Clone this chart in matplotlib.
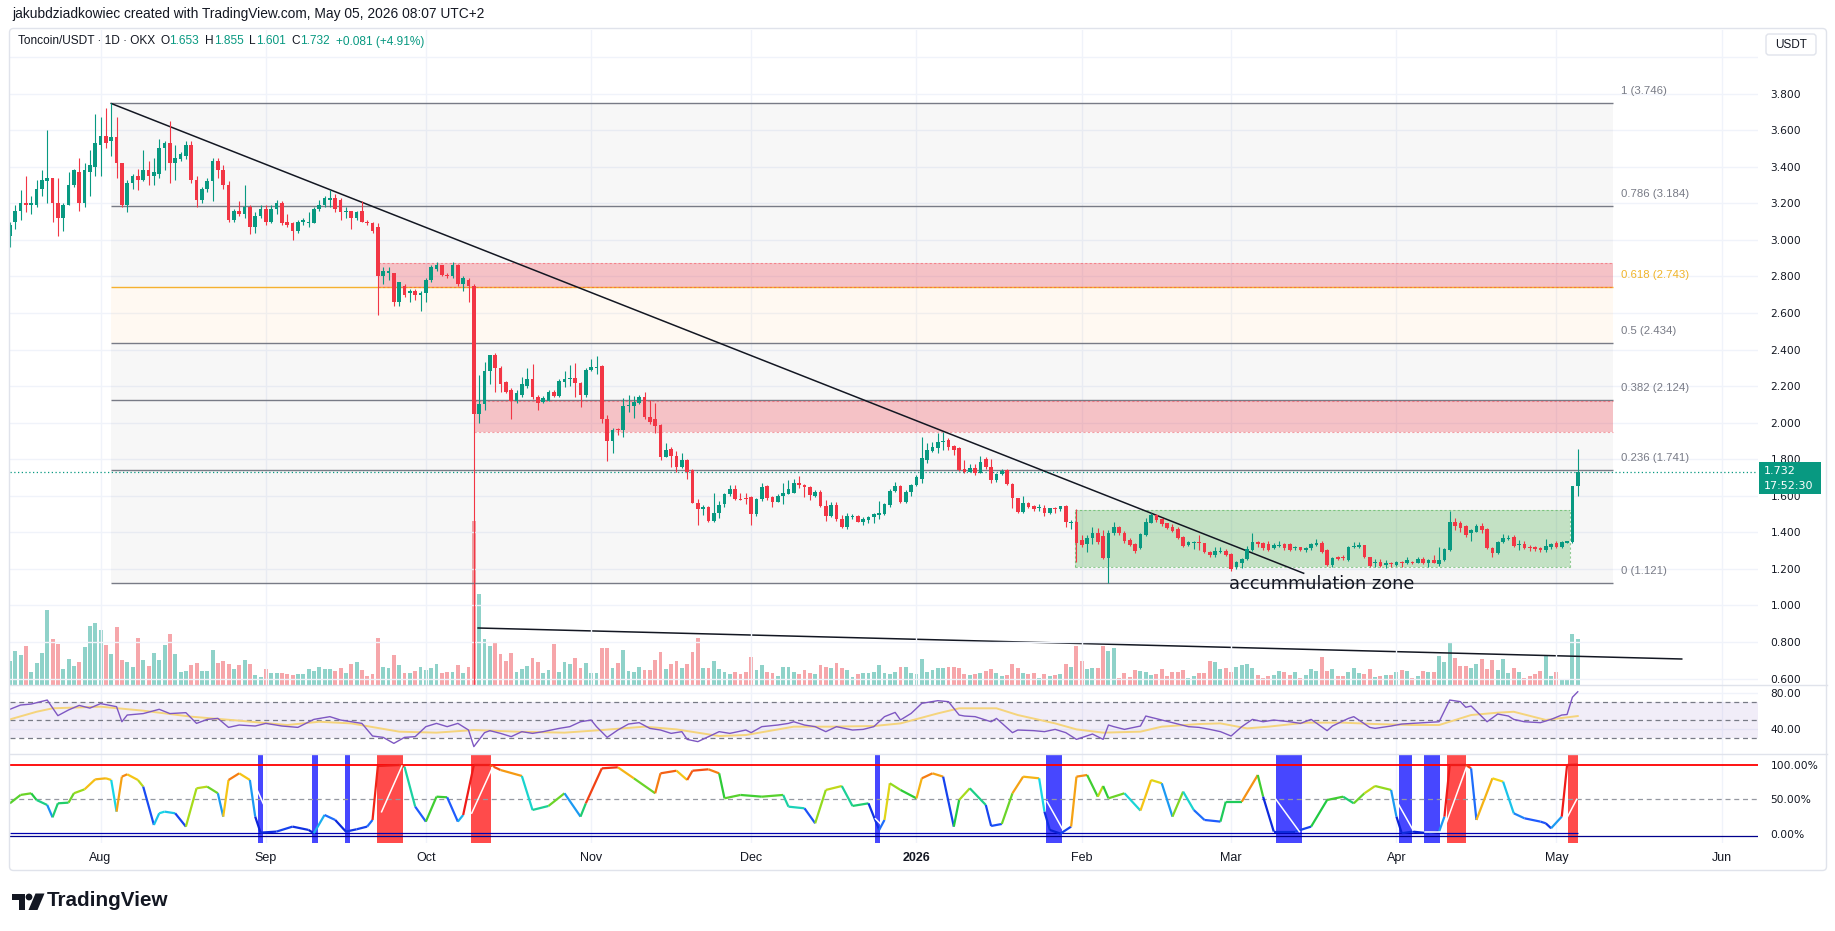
import numpy as np
import pandas as pd
import matplotlib
matplotlib.use("Agg")
import matplotlib.pyplot as plt
from matplotlib.collections import LineCollection
from matplotlib.colors import LinearSegmentedColormap
from matplotlib.patches import Rectangle, FancyBboxPatch, Polygon, Circle

# ---------------- data ----------------
start_date = "2025-07-15"   # first daily candle

opens = [
    3.02, 3.10, 3.16, 3.20, 3.19, 3.19, 3.28, 3.32, 3.34, 3.20,
    3.12, 3.19, 3.30, 3.37, 3.20, 3.37, 3.40, 3.52, 3.57, 3.54,
    3.56, 3.42, 3.19, 3.31, 3.35, 3.33, 3.38, 3.35, 3.36, 3.50,
    3.53, 3.42, 3.44, 3.46, 3.52, 3.33, 3.22, 3.28, 3.32, 3.43,
    3.38, 3.30, 3.11, 3.16, 3.14, 3.18, 3.07, 3.13, 3.17, 3.10,
    3.17, 3.20, 3.10, 3.09, 3.05, 3.10, 3.09, 3.09, 3.17, 3.19,
    3.22, 3.23, 3.22, 3.15, 3.16, 3.12, 3.16, 3.10, 3.09, 3.07,
    2.80, 2.82, 2.82, 2.66, 2.75, 2.71, 2.72, 2.70, 2.71, 2.78,
    2.84, 2.86, 2.81, 2.80, 2.86, 2.76, 2.78, 2.75, 2.05, 2.10,
    2.28, 2.37, 2.30, 2.22, 2.18, 2.12, 2.15, 2.20, 2.24, 2.14,
    2.115, 2.12, 2.17, 2.145, 2.225, 2.237, 2.242, 2.215, 2.151, 2.288,
    2.30, 2.31, 2.018, 1.901, 1.963, 1.96, 2.091, 2.09, 2.11, 2.138,
    2.029, 2.018, 1.987, 1.814, 1.854, 1.818, 1.756, 1.796, 1.741, 1.562,
    1.526, 1.54, 1.464, 1.504, 1.555, 1.61, 1.635, 1.582, 1.59, 1.595,
    1.50, 1.58, 1.653, 1.595, 1.568, 1.599, 1.61, 1.617, 1.668, 1.659,
    1.646, 1.60, 1.622, 1.544, 1.489, 1.549, 1.471, 1.431, 1.486, 1.491,
    1.458, 1.467, 1.486, 1.495, 1.50, 1.55, 1.628, 1.653, 1.568, 1.622,
    1.659, 1.69, 1.795, 1.847, 1.86, 1.896, 1.905, 1.872, 1.859, 1.745,
    1.732, 1.75, 1.726, 1.799, 1.759, 1.686, 1.719, 1.741, 1.664, 1.586,
    1.513, 1.559, 1.544, 1.535, 1.535, 1.504, 1.533, 1.526, 1.544, 1.453,
    1.458, 1.358, 1.336, 1.367, 1.398, 1.38, 1.258, 1.398, 1.427, 1.398,
    1.358, 1.336, 1.312, 1.385, 1.453, 1.495, 1.471, 1.449, 1.427, 1.416,
    1.376, 1.331, 1.343, 1.347, 1.34, 1.294, 1.276, 1.294, 1.30, 1.281,
    1.208, 1.234, 1.252, 1.303, 1.349, 1.343, 1.336, 1.312, 1.325, 1.336,
    1.336, 1.312, 1.318, 1.303, 1.312, 1.331, 1.343, 1.303, 1.221, 1.263,
    1.265, 1.249, 1.321, 1.321, 1.329, 1.263, 1.23, 1.239, 1.221, 1.234,
    1.221, 1.239, 1.23, 1.239, 1.234, 1.252, 1.23, 1.248, 1.227, 1.248,
    1.303, 1.458, 1.449, 1.434, 1.398, 1.404, 1.434, 1.416, 1.312, 1.285,
    1.349, 1.365, 1.376, 1.331, 1.336, 1.321, 1.318, 1.312, 1.303, 1.318,
    1.34, 1.318, 1.343, 1.349, 1.653,
]
highs = [
    3.10, 3.19, 3.27, 3.35, 3.24, 3.33, 3.38, 3.60, 3.34, 3.34,
    3.20, 3.37, 3.39, 3.45, 3.42, 3.49, 3.69, 3.67, 3.72, 3.746,
    3.67, 3.42, 3.33, 3.36, 3.39, 3.49, 3.43, 3.45, 3.55, 3.54,
    3.65, 3.52, 3.48, 3.54, 3.54, 3.35, 3.29, 3.34, 3.45, 3.45,
    3.41, 3.32, 3.17, 3.21, 3.30, 3.19, 3.15, 3.19, 3.19, 3.19,
    3.22, 3.21, 3.14, 3.10, 3.11, 3.12, 3.15, 3.18, 3.22, 3.24,
    3.27, 3.25, 3.23, 3.18, 3.16, 3.16, 3.21, 3.11, 3.10, 3.09,
    2.85, 2.85, 2.82, 2.77, 2.76, 2.73, 2.73, 2.72, 2.79, 2.86,
    2.88, 2.86, 2.82, 2.88, 2.87, 2.80, 2.79, 2.76, 2.26, 2.33,
    2.37, 2.38, 2.31, 2.23, 2.19, 2.18, 2.25, 2.30, 2.32, 2.15,
    2.145, 2.18, 2.18, 2.24, 2.28, 2.315, 2.324, 2.22, 2.297, 2.346,
    2.364, 2.315, 2.042, 1.969, 1.968, 2.133, 2.151, 2.146, 2.151, 2.17,
    2.124, 2.106, 1.99, 1.89, 1.868, 1.847, 1.832, 1.80, 1.745, 1.58,
    1.55, 1.545, 1.613, 1.57, 1.617, 1.659, 1.659, 1.613, 1.617, 1.598,
    1.59, 1.668, 1.659, 1.60, 1.61, 1.672, 1.686, 1.69, 1.708, 1.664,
    1.654, 1.631, 1.631, 1.577, 1.568, 1.568, 1.495, 1.504, 1.50, 1.495,
    1.485, 1.49, 1.504, 1.573, 1.558, 1.635, 1.677, 1.659, 1.631, 1.664,
    1.713, 1.923, 1.887, 1.896, 1.941, 1.95, 1.914, 1.877, 1.865, 1.795,
    1.774, 1.774, 1.817, 1.81, 1.80, 1.723, 1.744, 1.744, 1.668, 1.59,
    1.599, 1.568, 1.55, 1.555, 1.549, 1.535, 1.54, 1.544, 1.548, 1.467,
    1.525, 1.385, 1.385, 1.427, 1.422, 1.412, 1.413, 1.458, 1.434, 1.409,
    1.367, 1.343, 1.394, 1.477, 1.507, 1.50, 1.476, 1.452, 1.445, 1.427,
    1.38, 1.354, 1.354, 1.385, 1.343, 1.30, 1.321, 1.318, 1.307, 1.285,
    1.245, 1.258, 1.325, 1.394, 1.354, 1.349, 1.354, 1.34, 1.354, 1.34,
    1.34, 1.325, 1.32, 1.318, 1.343, 1.361, 1.354, 1.307, 1.263, 1.27,
    1.276, 1.325, 1.347, 1.347, 1.332, 1.267, 1.252, 1.252, 1.248, 1.239,
    1.244, 1.244, 1.266, 1.245, 1.263, 1.266, 1.252, 1.276, 1.321, 1.312,
    1.518, 1.477, 1.464, 1.44, 1.416, 1.445, 1.453, 1.422, 1.321, 1.354,
    1.39, 1.385, 1.385, 1.358, 1.354, 1.331, 1.325, 1.321, 1.361, 1.343,
    1.354, 1.354, 1.354, 1.653, 1.855,
]
lows = [
    2.96, 3.06, 3.11, 3.15, 3.14, 3.18, 3.24, 3.20, 3.10, 3.02,
    3.05, 3.19, 3.29, 3.16, 3.18, 3.24, 3.35, 3.35, 3.50, 3.46,
    3.34, 3.18, 3.15, 3.28, 3.27, 3.32, 3.30, 3.30, 3.34, 3.38,
    3.31, 3.33, 3.43, 3.44, 3.31, 3.18, 3.20, 3.26, 3.21, 3.34,
    3.28, 3.10, 3.10, 3.13, 3.12, 3.03, 3.04, 3.12, 3.08, 3.09,
    3.14, 3.08, 3.07, 3.00, 3.04, 3.08, 3.07, 3.09, 3.16, 3.18,
    3.18, 3.15, 3.11, 3.12, 3.06, 3.11, 3.10, 3.08, 3.04, 2.59,
    2.76, 2.78, 2.64, 2.64, 2.69, 2.66, 2.67, 2.61, 2.66, 2.77,
    2.83, 2.80, 2.79, 2.79, 2.75, 2.72, 2.66, 0.50, 2.00, 2.07,
    2.21, 2.17, 2.17, 2.16, 2.02, 2.11, 2.14, 2.19, 2.13, 2.07,
    2.105, 2.12, 2.14, 2.14, 2.197, 2.20, 2.138, 2.084, 2.142, 2.285,
    2.266, 1.996, 1.792, 1.836, 1.933, 1.923, 2.06, 2.024, 2.10, 2.02,
    1.995, 1.945, 1.796, 1.81, 1.755, 1.732, 1.75, 1.69, 1.558, 1.44,
    1.495, 1.458, 1.458, 1.48, 1.54, 1.60, 1.577, 1.577, 1.555, 1.44,
    1.49, 1.572, 1.577, 1.537, 1.568, 1.555, 1.61, 1.613, 1.641, 1.595,
    1.577, 1.595, 1.54, 1.464, 1.482, 1.464, 1.422, 1.42, 1.471, 1.456,
    1.44, 1.45, 1.453, 1.471, 1.495, 1.54, 1.622, 1.562, 1.558, 1.599,
    1.655, 1.668, 1.78, 1.84, 1.836, 1.85, 1.85, 1.823, 1.737, 1.723,
    1.73, 1.713, 1.722, 1.744, 1.672, 1.677, 1.713, 1.659, 1.531, 1.507,
    1.507, 1.535, 1.518, 1.518, 1.489, 1.50, 1.504, 1.518, 1.431, 1.416,
    1.239, 1.318, 1.294, 1.336, 1.336, 1.252, 1.124, 1.385, 1.385, 1.343,
    1.325, 1.289, 1.307, 1.38, 1.449, 1.458, 1.434, 1.416, 1.404, 1.362,
    1.321, 1.325, 1.307, 1.303, 1.289, 1.267, 1.267, 1.285, 1.27, 1.19,
    1.197, 1.203, 1.248, 1.30, 1.321, 1.303, 1.30, 1.307, 1.318, 1.303,
    1.30, 1.303, 1.30, 1.29, 1.303, 1.325, 1.289, 1.216, 1.212, 1.248,
    1.248, 1.245, 1.312, 1.312, 1.259, 1.212, 1.208, 1.208, 1.203, 1.212,
    1.216, 1.212, 1.226, 1.225, 1.23, 1.226, 1.212, 1.23, 1.216, 1.245,
    1.30, 1.412, 1.404, 1.376, 1.354, 1.40, 1.398, 1.307, 1.263, 1.281,
    1.343, 1.358, 1.318, 1.303, 1.307, 1.30, 1.30, 1.29, 1.294, 1.307,
    1.312, 1.312, 1.34, 1.343, 1.601,
]
closes = [
    3.08, 3.16, 3.20, 3.19, 3.20, 3.28, 3.33, 3.34, 3.20, 3.12,
    3.19, 3.30, 3.38, 3.20, 3.38, 3.41, 3.53, 3.57, 3.53, 3.56,
    3.42, 3.19, 3.31, 3.35, 3.33, 3.38, 3.35, 3.37, 3.50, 3.53,
    3.42, 3.45, 3.47, 3.52, 3.33, 3.22, 3.28, 3.32, 3.43, 3.38,
    3.30, 3.11, 3.16, 3.14, 3.18, 3.07, 3.13, 3.17, 3.10, 3.17,
    3.20, 3.09, 3.08, 3.05, 3.10, 3.11, 3.10, 3.17, 3.19, 3.23,
    3.23, 3.17, 3.15, 3.16, 3.12, 3.15, 3.10, 3.09, 3.05, 2.80,
    2.83, 2.83, 2.66, 2.77, 2.70, 2.72, 2.70, 2.71, 2.78, 2.85,
    2.86, 2.81, 2.80, 2.86, 2.76, 2.79, 2.75, 2.05, 2.10, 2.28,
    2.37, 2.30, 2.21, 2.17, 2.12, 2.16, 2.21, 2.24, 2.14, 2.11,
    2.133, 2.17, 2.145, 2.23, 2.237, 2.242, 2.215, 2.151, 2.288, 2.306,
    2.306, 2.018, 1.901, 1.96, 1.96, 2.091, 2.096, 2.115, 2.138, 2.029,
    2.005, 1.982, 1.814, 1.85, 1.818, 1.759, 1.796, 1.732, 1.562, 1.526,
    1.54, 1.464, 1.504, 1.55, 1.61, 1.635, 1.58, 1.578, 1.58, 1.50,
    1.58, 1.65, 1.586, 1.568, 1.599, 1.617, 1.635, 1.668, 1.659, 1.646,
    1.604, 1.622, 1.544, 1.489, 1.549, 1.471, 1.431, 1.489, 1.491, 1.458,
    1.471, 1.486, 1.50, 1.504, 1.555, 1.628, 1.653, 1.568, 1.622, 1.659,
    1.704, 1.805, 1.85, 1.868, 1.896, 1.90, 1.868, 1.85, 1.741, 1.732,
    1.75, 1.726, 1.786, 1.759, 1.686, 1.719, 1.737, 1.664, 1.586, 1.513,
    1.559, 1.54, 1.526, 1.54, 1.504, 1.531, 1.529, 1.544, 1.458, 1.458,
    1.343, 1.331, 1.367, 1.398, 1.349, 1.258, 1.398, 1.427, 1.394, 1.354,
    1.331, 1.30, 1.391, 1.458, 1.495, 1.467, 1.446, 1.422, 1.409, 1.367,
    1.325, 1.349, 1.349, 1.34, 1.294, 1.276, 1.30, 1.30, 1.276, 1.197,
    1.239, 1.252, 1.307, 1.349, 1.336, 1.312, 1.303, 1.331, 1.331, 1.312,
    1.303, 1.318, 1.303, 1.312, 1.336, 1.343, 1.294, 1.221, 1.258, 1.252,
    1.258, 1.321, 1.325, 1.329, 1.263, 1.216, 1.239, 1.216, 1.23, 1.227,
    1.239, 1.234, 1.248, 1.234, 1.252, 1.234, 1.248, 1.234, 1.248, 1.307,
    1.458, 1.434, 1.422, 1.385, 1.413, 1.434, 1.413, 1.312, 1.285, 1.349,
    1.367, 1.367, 1.325, 1.336, 1.312, 1.312, 1.307, 1.303, 1.325, 1.336,
    1.318, 1.349, 1.354, 1.653, 1.732,
]
volumes = [
    24, 34, 30, 39, 13, 22, 32, 75, 46, 41, 16, 26, 19, 23, 38, 59, 62, 55, 40, 31,
    58, 25, 23, 18, 47, 25, 19, 32, 25, 40, 51, 31, 13, 14, 20, 22, 14, 14, 35, 22,
    24, 21, 16, 20, 25, 21, 10, 8, 16, 12,
    12, 12, 11, 10, 11, 11, 16, 14, 18, 16, 16, 14, 17, 12, 21, 23, 15, 9, 11, 47,
    18, 17, 30, 20, 12, 12, 14, 18, 15, 17, 21, 12, 13, 13, 20, 12, 18, 164, 91, 46,
    39, 42, 31, 24, 32, 13, 16, 19, 27, 23,
    12, 15, 41, 13, 23, 21, 27, 17, 22, 12, 12, 37, 37, 17, 22, 35, 14, 13, 18, 15,
    15, 25, 33, 16, 21, 24, 17, 21, 33, 47, 17, 17, 24, 16, 13, 11, 13, 11, 13, 28,
    15, 20, 13, 12, 9, 18, 18, 13, 11, 15,
    12, 11, 20, 18, 17, 22, 17, 15, 8, 11, 12, 12, 13, 20, 12, 11, 13, 18, 18, 12,
    11, 26, 13, 15, 17, 17, 18, 18, 17, 11, 10, 11, 12, 14, 16, 12, 9, 10, 21, 17,
    12, 11, 12, 7, 11, 9, 10, 11, 21, 18,
    39, 24, 16, 17, 17, 39, 34, 37, 7, 12, 8, 15, 14, 13, 10, 11, 16, 9, 13, 13,
    15, 7, 9, 12, 12, 24, 23, 16, 17, 13, 18, 20, 21, 17, 10, 7, 9, 10, 14, 13,
    10, 13, 7, 10, 16, 14, 28, 14, 16,
    9, 9, 13, 17, 12, 11, 16, 8, 9, 10, 10, 13, 15, 14, 7, 9, 14, 13, 13, 29,
    23, 43, 27, 19, 19, 17, 21, 26, 16, 25, 15, 26, 12, 17, 13, 7, 9, 11, 14, 29,
    9, 13, 6, 6, 51, 46,
]

# RSI(14) and its moving average, sampled along the line
rsi_idx = [0, 2, 4, 7, 9, 11, 13, 15, 17, 20, 21, 22, 25, 28, 30, 33, 35, 37, 39, 41,
           43, 46, 48, 51, 54, 57, 60, 62, 64, 66, 68, 70, 72, 74, 76, 78, 80, 82, 84, 86,
           87, 89, 90, 92, 94, 96, 98, 100, 103, 105, 107, 109, 110, 112, 114, 116, 118, 120, 122, 124,
           126, 127, 129, 131, 133, 135, 138, 139, 141, 144, 146, 147, 149, 151, 153, 155, 158, 160, 162, 164,
           166, 167, 169, 171, 174, 176, 178, 179, 181, 184, 185, 188, 189, 192, 194, 196, 198, 200, 203, 205,
           206, 207, 209, 212, 213, 216, 218, 221, 223, 225, 227, 229, 231, 233, 235, 237, 240, 242, 244, 247,
           248, 251, 252, 255, 256, 259, 261, 263, 265, 268, 270, 272, 273, 274, 277, 279, 281, 282, 284, 287,
           289, 291, 292, 293, 294]
rsi_val = [61.7, 66.4, 67.5, 71.9, 54.7, 61.0, 66.0, 63.0, 68.0, 64.6, 48.0, 55.4, 57.0, 61.7, 57.0, 58.0, 46.2, 50.6, 51.7, 41.8,
           44.4, 43.3, 46.2, 43.3, 41.8, 50.6, 53.6, 49.9, 48.0, 46.2, 32.3, 30.8, 24.2, 30.8, 31.6, 42.6, 46.2, 42.6, 46.2, 38.9,
           20.6, 36.0, 38.2, 35.2, 31.6, 37.1, 35.2, 37.1, 40.7, 42.6, 48.0, 49.9, 42.6, 30.8, 38.9, 45.5, 47.0, 40.7, 38.9, 35.2,
           37.1, 28.6, 26.1, 31.6, 37.1, 35.2, 38.9, 36.0, 42.6, 44.4, 46.2, 48.0, 44.4, 42.6, 37.1, 42.6, 38.9, 39.6, 42.6, 53.6,
           58.3, 50.0, 57.2, 68.3, 71.2, 70.1, 55.4, 54.3, 53.6, 48.0, 51.7, 36.0, 38.9, 38.2, 37.1, 39.6, 36.0, 28.6, 34.5, 28.6,
           44.4, 42.6, 39.6, 43.3, 54.3, 49.9, 47.0, 42.6, 41.8, 39.6, 37.1, 32.3, 42.6, 50.6, 48.0, 49.9, 48.0, 46.2, 50.6, 38.2,
           43.3, 51.7, 53.6, 41.8, 40.7, 43.3, 45.5, 46.2, 47.0, 48.0, 71.9, 70.1, 63.9, 65.3, 48.0, 56.5, 54.3, 50.6, 48.0, 47.0,
           50.6, 55.4, 56.0, 75.0, 81.0]
rsi_ma_idx = [0, 5, 8, 17, 25, 34, 43, 52, 58, 64, 73, 80, 87, 95, 104, 111, 119, 125, 133, 138,
              147, 154, 162, 167, 174, 178, 185, 189, 196, 200, 205, 212, 216, 223, 227, 232, 236, 243, 250, 256,
              263, 268, 274, 279, 282, 288, 294]
rsi_ma_val = [50.6, 59.0, 62.8, 64.6, 60.2, 53.6, 49.2, 44.4, 48.0, 46.2, 37.1, 36.0, 38.9, 37.1, 36.0, 38.9, 42.6, 39.6, 32.3, 33.4,
              42.6, 42.6, 43.3, 46.2, 57.2, 62.8, 62.8, 55.4, 46.2, 39.6, 36.0, 37.1, 42.6, 45.5, 46.2, 40.7, 42.6, 47.0, 47.0, 45.5,
              44.4, 44.4, 55.4, 58.0, 59.0, 50.0, 54.3]

# oscillator in the lowest pane (0-100 %)
osc_idx = [0, 2, 4, 5, 7, 8, 9, 11, 12, 14, 16, 18, 19, 20, 21, 22, 24, 25, 27, 28,
           29, 31, 33, 35, 37, 39, 40, 41, 43, 45, 46, 47, 50, 53, 56, 57, 59, 61, 63, 65,
           67, 68, 69, 73, 74, 76, 78, 80, 82, 84, 85, 87, 90, 92, 96, 98, 101, 104, 107, 108,
           111, 114, 117, 121, 122, 125, 127, 128, 131, 133, 134, 137, 141, 145, 146, 149, 151, 153, 156, 158,
           161, 163, 164, 165, 167, 170, 171, 173, 175, 177, 178, 180, 183, 184, 186, 188, 190, 193, 194, 195,
           197, 199, 200, 202, 204, 205, 206, 209, 212, 214, 216, 218, 220, 222, 224, 227, 228, 231, 234, 235,
           237, 241, 244, 247, 250, 252, 254, 256, 259, 260, 261, 263, 266, 268, 269, 270, 273, 274, 275, 278,
           280, 282, 284, 287, 288, 289, 291, 292, 294]
osc_val = [44.2, 56.3, 58.7, 49.0, 41.8, 24.0, 44.2, 45.2, 58.7, 64.4, 78.8, 80.3, 77.9, 32.2, 82.7, 86.1, 77.9, 68.3, 13.0, 29.8,
           32.2, 29.8, 10.6, 65.9, 68.3, 58.7, 25.0, 77.9, 87.5, 77.9, 25.0, 1.9, 3.4, 10.6, 5.8, 1.0, 27.4, 20.2, 3.4, 6.7,
           10.6, 20.2, 98.1, 99.5, 97.0, 39.4, 17.8, 53.8, 52.9, 17.8, 27.4, 99.5, 99.5, 92.3, 83.7, 34.6, 40.4, 58.7, 25.0, 44.2,
           94.7, 96.2, 80.3, 58.7, 87.5, 91.3, 77.9, 91.3, 93.3, 87.5, 51.4, 56.3, 53.8, 56.3, 39.4, 37.0, 15.4, 63.5, 69.2, 40.4,
           44.2, 5.8, 20.2, 73.1, 63.5, 51.4, 80.3, 87.5, 82.7, 10.6, 49.0, 65.9, 41.8, 11.5, 14.4, 58.7, 82.7, 80.3, 32.2, 5.8,
           0.5, 10.6, 82.7, 85.1, 53.8, 69.2, 51.4, 58.7, 33.7, 77.9, 73.1, 25.0, 61.1, 34.6, 20.2, 17.8, 46.6, 46.6, 85.1, 53.8,
           3.4, 3.4, 10.6, 49.0, 53.8, 44.2, 58.7, 69.2, 63.5, 25.0, 1.0, 3.4, 1.0, 3.4, 25.0, 99.5, 99.5, 94.7, 20.2, 80.3,
           75.5, 29.8, 22.6, 17.8, 15.4, 8.2, 25.0, 99.5, 100.0]

# extreme-zone highlight bars (candle index ranges)
blue_spans = [(46.5, 47.5), (56.7, 57.7), (62.8, 63.8), (162.2, 163.2),
              (194.3, 197.2), (237.4, 242.2), (260.4, 263.0), (265.2, 268.1)]
red_spans = [(68.8, 73.8), (86.5, 90.3), (269.4, 273.1), (292.2, 294.0)]
# white signal strokes visible inside the highlight bars: (x0, v0, x1, v1)
white_strokes = [(46.4, 63, 47.5, 44), (69.7, 32, 73.5, 98), (86.6, 30, 90.5, 96),
                 (162.3, 22, 163.2, 15), (194.5, 46.6, 197.3, 8.2), (237.3, 51, 241.8, 3.4),
                 (260.3, 44, 263.1, 5.8), (265.3, 3.4, 268.1, 3.4), (269.3, 15, 273.1, 96),
                 (292.1, 25, 293.8, 50)]

# drawings
fib_ratio = [1, 0.786, 0.618, 0.5, 0.382, 0.236, 0]
fib_price = [3.746, 3.184, 2.743, 2.434, 2.124, 1.741, 1.121]
fib_x = [19, 300.6]
zone_x0 = [69, 87]
zone_lo = [2.743, 1.948]
zone_hi = [2.874, 2.121]
box_x = [199.7, 292.5]
box_lo, box_hi = 1.208, 1.522
trend_x = [19, 242.6]
trend_y = [3.746, 1.176]
vol_trend_x = [87.8, 313.5]
vol_trend_y = [56.6, 25.6]
last_price = 1.732

# ---------------- styling ----------------
GREEN, RED = "#089981", "#F23645"
VGREEN, VRED = "#8fd2c9", "#f6a6aa"
TXT = "#131722"
GRID = "#f0f3fa"
LIB = "Liberation Sans"
plt.rcParams["font.family"] = ["DejaVu Sans"]

W, H = 1835, 931
fig = plt.figure(figsize=(W / 100, H / 100), dpi=100)
XL = (0.02, 327.8)


def pane(y0, y1):
    a = fig.add_axes([10 / W, 1 - y1 / H, 1748 / W, (y1 - y0) / H])
    a.set_xlim(*XL)
    for s in a.spines.values():
        s.set_visible(False)
    return a


t0 = pd.Timestamp(start_date)
month_starts = pd.date_range("2025-08-01", "2026-06-01", freq="MS")
month_pos = [(d - t0).days for d in month_starts]
month_lbl = ["2026" if d.month == 1 else d.strftime("%b") for d in month_starts]

idx = np.arange(len(closes))
o, h, l, c = (np.array(v, float) for v in (opens, highs, lows, closes))
up = c >= o

# ---- volume (bottom layer of the main pane) ----
vax = pane(30, 684.6)
vax.set_ylim(0, 654.6)
vax.set_xticks([])
vax.set_yticks([])
vax.bar(idx, volumes, width=0.74, color=np.where(up, VGREEN, VRED), lw=0, zorder=2)
vax.plot(vol_trend_x, vol_trend_y, color=TXT, lw=1.1, zorder=3)

# ---- price pane ----
ax = pane(30, 684.6)
ax.set_facecolor("none")
ax.set_ylim(0.567, 4.148)
for p in np.arange(0.6, 4.01, 0.2):
    ax.axhline(p, color=GRID, lw=1, zorder=0)
for m in month_pos:
    ax.axvline(m, color=GRID, lw=1, zorder=0)

for k in range(len(fib_price) - 1):
    cream = fib_ratio[k] == 0.618
    ax.fill_between(fib_x, fib_price[k + 1], fib_price[k], lw=0, zorder=0.5,
                    color="#ff9800" if cream else "#000000", alpha=0.05 if cream else 0.03)
for r, p in zip(fib_ratio, fib_price):
    gold = r == 0.618
    ax.hlines(p, *fib_x, color="#f5b12f" if gold else "#787b86", lw=1, zorder=1)
    ax.annotate(f"{r:g} ({p:.3f})", xy=(302.1, p), xytext=(0, 12), textcoords="offset pixels",
                va="center", ha="left", fontsize=8.2, family=LIB,
                color="#f0b429" if gold else "#787b86")

for x0, lo, hi in zip(zone_x0, zone_lo, zone_hi):
    ax.fill_between([x0, fib_x[1]], lo, hi, color=RED, alpha=0.27, lw=0, zorder=1.5)
    ax.hlines([lo, hi], x0, fib_x[1], color=RED, alpha=0.45, lw=0.8, ls=(0, (2, 2)), zorder=1.6)

ax.fill_between(box_x, box_lo, box_hi, color="#4caf50", alpha=0.3, lw=0, zorder=1.5)
ax.hlines([box_lo, box_hi], *box_x, color="#4caf50", alpha=0.6, lw=0.8, ls=(0, (2, 2)), zorder=1.6)
ax.vlines(box_x, box_lo, box_hi, color="#4caf50", alpha=0.6, lw=0.8, ls=(0, (2, 2)), zorder=1.6)

ax.plot(trend_x, trend_y, color=TXT, lw=1.1, zorder=3)
ax.axhline(last_price, color=GREEN, lw=0.9, ls=(0, (1, 2)), zorder=3)

col = np.where(up, GREEN, RED)
ax.vlines(idx, np.minimum(l, np.minimum(o, c)), np.maximum(h, np.maximum(o, c)),
          colors=col, lw=0.8, zorder=4)
ax.bar(idx, np.maximum(np.abs(c - o), 0.006), bottom=np.minimum(o, c), width=0.68,
       color=col, lw=0, zorder=5)

ax.text(228.6, 1.117, "accummulation zone", fontsize=12.8, color=TXT, va="center", ha="left", zorder=6)

ax.set_xticks([])
ticks = np.round(np.arange(0.6, 3.81, 0.2), 1)
ax.set_yticks(ticks)
ax.set_yticklabels([f"{t:.3f}" for t in ticks])
ax.tick_params(axis="y", left=False, labelleft=False, right=False, labelright=True,
               length=0, pad=9, labelsize=7.7, labelcolor=TXT)

# ---- RSI pane ----
rax = pane(684.6, 754)
rax.set_ylim(12.5, 88.9)
for m in month_pos:
    rax.axvline(m, color=GRID, lw=1, zorder=0)
rax.axhline(80, color=GRID, lw=1, zorder=0)
rax.axhline(40, color=GRID, lw=1, zorder=0)
rax.axhspan(30, 70, color="#7e57c2", alpha=0.1, lw=0, zorder=0.5)
for v in (70, 50, 30):
    rax.axhline(v, color="#787b86", lw=0.9, ls=(0, (4, 3)), zorder=1)
rax.plot(rsi_ma_idx, rsi_ma_val, color="#f5d47c", lw=1.4, zorder=2)
rax.plot(rsi_idx, rsi_val, color="#7e57c2", lw=1.0, zorder=3)
rax.set_xticks([])
rax.set_yticks([80, 40])
rax.set_yticklabels(["80.00", "40.00"])
rax.tick_params(axis="y", left=False, labelleft=False, right=False, labelright=True,
                length=0, pad=9, labelsize=7.7, labelcolor=TXT)

# ---- oscillator pane ----
sax = pane(754, 843.3)
sax.set_ylim(-13.5, 115.4)
for m in month_pos:
    sax.axvline(m, color=GRID, lw=1, zorder=0)
for a, b in blue_spans:
    sax.axvspan(a, b, ymin=0.008, ymax=0.99, color="#4747ff", lw=0, zorder=1)
for a, b in red_spans:
    sax.axvspan(a, b, ymin=0.008, ymax=0.99, color="#ff4b4b", lw=0, zorder=1)
sax.axhline(100, color="#ff0000", lw=1.3, zorder=2)
sax.axhline(50, color="#9598a1", lw=0.9, ls=(0, (4, 3)), zorder=2)
sax.axhline(-2.5, color="#00008b", lw=0.9, zorder=2)
sax.hlines(1.5, XL[0], idx[-1], color="#0000b0", lw=0.9, zorder=2)

cmap = LinearSegmentedColormap.from_list(
    "osc", [(0, "#0a1fd6"), (0.18, "#1f5cff"), (0.32, "#18d6e6"), (0.5, "#21c93a"),
            (0.65, "#9fdc1b"), (0.76, "#f5d316"), (0.88, "#f57c12"), (1, "#f01818")])
sx = np.array(osc_idx, float)
sv = np.array(osc_val, float)
segs = np.stack([np.column_stack([sx[:-1], sv[:-1]]), np.column_stack([sx[1:], sv[1:]])], axis=1)
sax.add_collection(LineCollection(segs, colors=cmap(np.clip(sv[1:] / 100, 0, 1)), lw=1.6, zorder=3))
for x0, v0, x1, v1 in white_strokes:
    sax.plot([x0, x1], [v0, v1], color="white", lw=1.1, zorder=4)

sax.set_xticks(month_pos)
sax.set_xticklabels(month_lbl, family=LIB)
for t in sax.get_xticklabels():
    if t.get_text() == "2026":
        t.set_fontweight("bold")
sax.tick_params(axis="x", length=0, pad=6, labelsize=9, labelcolor=TXT)
sax.set_yticks([100, 50, 0])
sax.set_yticklabels(["100.00%", "50.00%", "0.00%"])
sax.tick_params(axis="y", left=False, labelleft=False, right=False, labelright=True,
                length=0, pad=9, labelsize=7.7, labelcolor=TXT)

# ---- overlay: frame, header, legend, labels, logo ----
ov = fig.add_axes([0, 0, 1, 1], zorder=10)
ov.set_xlim(0, W)
ov.set_ylim(H, 0)
ov.axis("off")
ov.add_patch(FancyBboxPatch((9.5, 28.5), 1817, 842, boxstyle="round,pad=0,rounding_size=4",
                            fill=False, ec="#e0e3eb", lw=1))
for y in (684.6, 754):
    ov.plot([9.5, 1826.5], [y, y], color="#e0e3eb", lw=1)

ov.text(12, 14, "jakubdziadkowiec created with TradingView.com, May 05, 2026 08:07 UTC+2",
        fontsize=9.9, family=LIB, color=TXT, va="center", ha="left")

renderer = fig.canvas.get_renderer()
legend = [("Toncoin/USDT · 1D · OKX", TXT, 5), ("O", TXT, 0), ("1.653", GREEN, 6),
          ("H", TXT, 0), ("1.855", GREEN, 6), ("L", TXT, 0), ("1.601", GREEN, 6),
          ("C", TXT, 0), ("1.732", GREEN, 6), ("+0.081 (+4.91%)", GREEN, 0)]
x = 18
for s, colr, gap in legend:
    t = ov.text(x, 41.5, s, fontsize=8.6, family=LIB, color=colr, va="center", ha="left")
    x += t.get_window_extent(renderer).width + gap

ov.add_patch(FancyBboxPatch((1766, 34), 50, 21, boxstyle="round,pad=0,rounding_size=3",
                            fc="white", ec="#e0e3eb", lw=1))
ov.text(1791, 44.5, "USDT", fontsize=8.5, family=LIB, color=TXT, va="center", ha="center")

ov.add_patch(Rectangle((1759, 462), 62, 32, fc=GREEN, ec="none"))
ov.text(1764, 470.5, f"{last_price:.3f}", fontsize=8, color="white", va="center", ha="left")
ov.text(1764, 486, "17:52:30", fontsize=8, color="white", va="center", ha="left")

ov.add_patch(Rectangle((12, 893.5), 13, 6, fc=TXT, ec="none"))
ov.add_patch(Rectangle((18.5, 893.5), 6.5, 16.5, fc=TXT, ec="none"))
ov.add_patch(Circle((29, 897), 3.4, fc=TXT, ec="none"))
ov.add_patch(Polygon([(35.5, 893.5), (44.5, 893.5), (37.5, 910), (28.5, 910)], fc=TXT, ec="none"))
ov.text(47, 901, "TradingView", fontsize=14.9, family=LIB, fontweight="bold", color=TXT,
        va="center", ha="left")

fig.savefig("out.png", dpi=100)
